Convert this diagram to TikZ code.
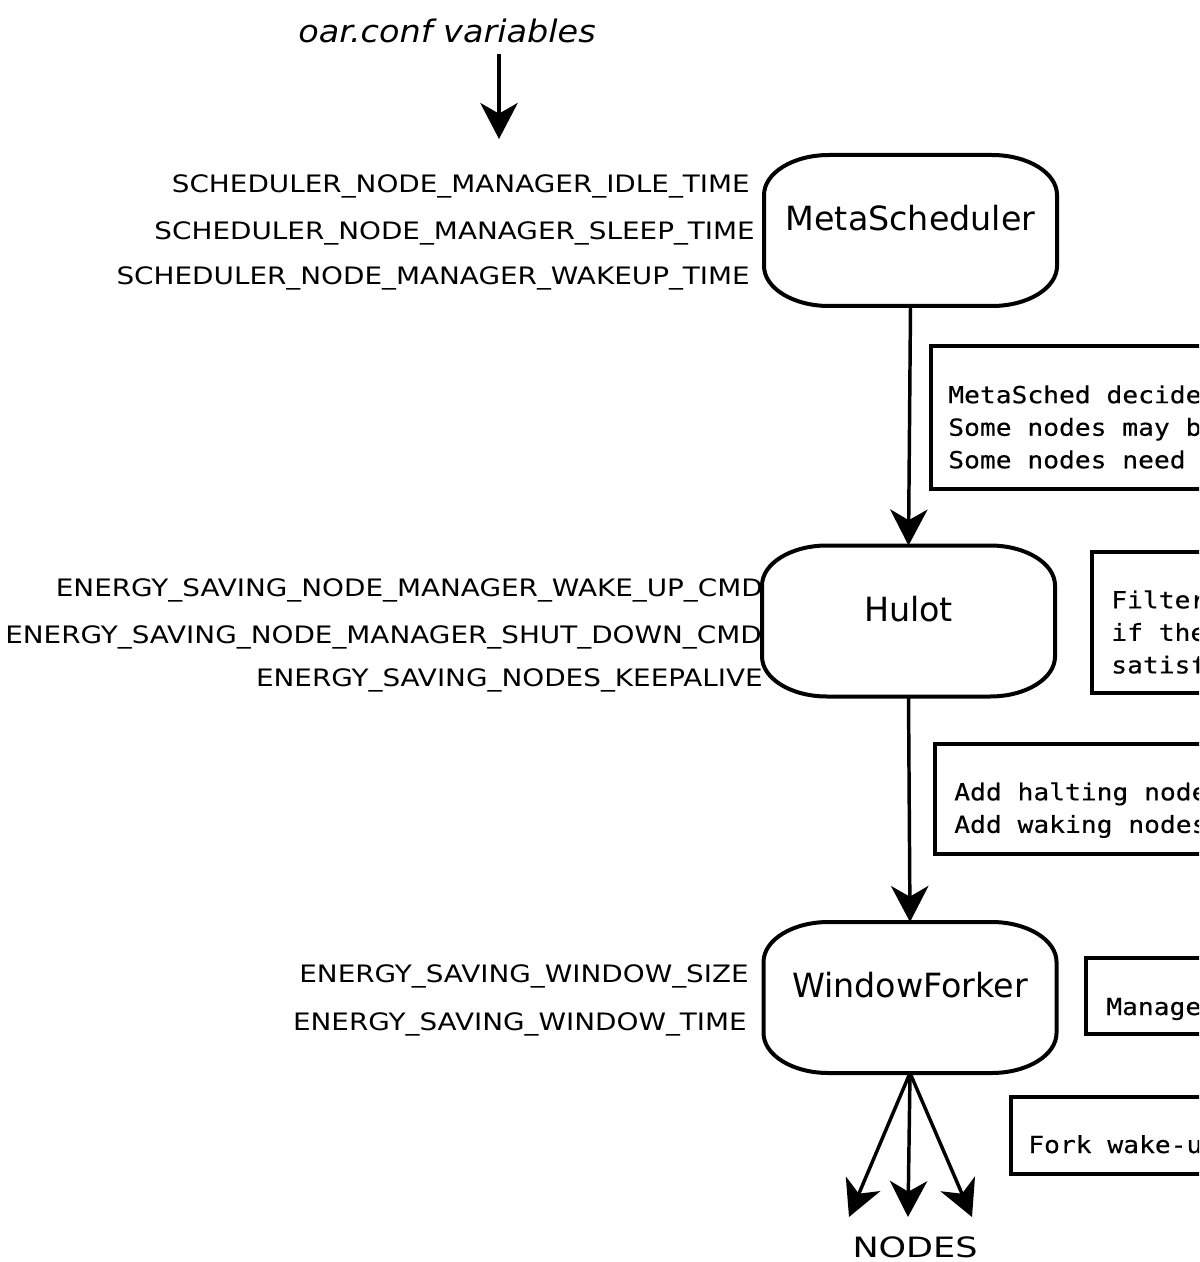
\documentclass[tikz,border=0pt]{standalone}
\usepackage{fontspec}
\usetikzlibrary{arrows.meta,calc}
\newfontfamily\boxfont{DejaVu Sans}
\newfontfamily\varfont[FakeStretch=1.16]{DejaVu Sans}
\newfontfamily\annfont[FakeStretch=1.12,FakeBold=0.4]{DejaVu Sans Mono}
\newfontfamily\nodesfont[FakeStretch=1.25]{DejaVu Sans}
\newfontfamily\ttlfont[FakeStretch=1.08]{DejaVu Sans Oblique}
\newcommand\procoutline[1]{%
  \draw[outline] ($(#1.north west)+(65,0)$) -- ($(#1.north east)+(-65,0)$)
    arc[start angle=90,end angle=0,x radius=48.75pt,y radius=30pt]
    -- ($(#1.south east)+(0,40)$)
    arc[start angle=0,end angle=-90,x radius=48.75pt,y radius=30pt]
    -- ($(#1.south west)+(65,0)$)
    arc[start angle=270,end angle=180,x radius=48.75pt,y radius=30pt]
    -- ($(#1.north west)+(0,-40)$)
    arc[start angle=180,end angle=90,x radius=48.75pt,y radius=30pt]
    -- cycle;}
\begin{document}
\begin{tikzpicture}[x=0.75pt,y=0.75pt,
  proc/.style={draw=none, minimum width=219.75pt, minimum height=113.25pt,
    inner sep=0pt, outer sep=0pt, text height=56.6pt, text depth=56.6pt,
    font=\boxfont\fontsize{25pt}{30pt}\selectfont},
  outline/.style={line width=3pt, line join=round},
  abox/.style={draw, line width=3pt, anchor=north west, inner sep=0pt, outer sep=0pt,
    minimum width=240pt},
  atext/.style={inner sep=0pt, align=left,
    font=\annfont\fontsize{17.6pt}{24.4pt}\selectfont},
  lab/.style={anchor=base east, inner sep=0pt,
    font=\varfont\fontsize{18pt}{20pt}\selectfont},
  arr/.style={line width=2.6pt, -{Stealth[length=27pt,width=28pt,inset=8pt]}}]
\fill[white] (0,0) rectangle (1199,-1262);
\useasboundingbox (0,0) rectangle (1199,-1262);
\clip (0,0) rectangle (1199,-1262);

% title and input arrow
\node[anchor=base, inner sep=0pt, font=\ttlfont\fontsize{23.25pt}{26pt}\selectfont] (conf) at (447,-43) {oar.conf variables};
\coordinate (cin0) at (499,-54);
\coordinate (cin1) at (499,-139);
\draw[arr] (cin0) -- (cin1);

% process boxes
\node[proc] (ms) at (910.5,-230.5) {MetaScheduler};
\procoutline{ms}
\node[proc] (hu) at (908.5,-621) {Hulot};
\procoutline{hu}
\node[proc] (wf) at (910,-997.5) {WindowForker};
\procoutline{wf}

% variable labels
\node[lab] (l1) at (750,-193) {SCHEDULER\_NODE\_MANAGER\_IDLE\_TIME};
\node[lab] (l2) at (755,-240) {SCHEDULER\_NODE\_MANAGER\_SLEEP\_TIME};
\node[lab] (l3) at (750,-285) {SCHEDULER\_NODE\_MANAGER\_WAKEUP\_TIME};
\node[lab] (l4) at (763,-596) {ENERGY\_SAVING\_NODE\_MANAGER\_WAKE\_UP\_CMD};
\node[lab] (l5) at (762,-643) {ENERGY\_SAVING\_NODE\_MANAGER\_SHUT\_DOWN\_CMD};
\node[lab] (l6) at (763,-686) {ENERGY\_SAVING\_NODES\_KEEPALIVE};
\node[lab] (l7) at (749,-982) {ENERGY\_SAVING\_WINDOW\_SIZE};
\node[lab] (l8) at (747,-1030) {ENERGY\_SAVING\_WINDOW\_TIME};

% connectors
\draw[arr] (ms.south) -- (hu.north);
\draw[arr] (hu.south) -- (wf.north);
\coordinate (n1) at (849,-1217);
\coordinate (n2) at (908,-1217);
\coordinate (n3) at (972,-1217);
\draw[arr] (wf.south) -- (n1);
\draw[arr] (wf.south) -- (n2);
\draw[arr] (wf.south) -- (n3);
\node[anchor=base, inner sep=0pt, font=\nodesfont\fontsize{21pt}{24pt}\selectfont] (nodes) at (915,-1257) {NODES};

% annotation boxes (cut by the right edge, as in the reference)
\node[abox, minimum height=107.25pt] (b1) at (931,-346) {};
\node[atext, anchor=north west] (t1) at (948,-385.1) {MetaSched decide\\Some nodes may b\\Some nodes need};
\node[abox, minimum height=105.75pt] (b2) at (1092,-552) {};
\node[atext, anchor=north west] (t2) at (1111,-590.1) {Filter\\if the\\satisf};
\node[abox, minimum height=82.5pt] (b3) at (935,-744) {};
\node[atext, anchor=north west] (t3) at (954,-782.1) {Add halting node\\Add waking nodes};
\node[abox, minimum height=57pt] (b4) at (1086,-958) {};
\node[atext, anchor=base west] (t4) at (1106,-1015) {Manage};
\node[abox, minimum height=57.75pt] (b5) at (1011,-1097) {};
\node[atext, anchor=base west] (t5) at (1028,-1153) {Fork wake-u};
\end{tikzpicture}
\end{document}
